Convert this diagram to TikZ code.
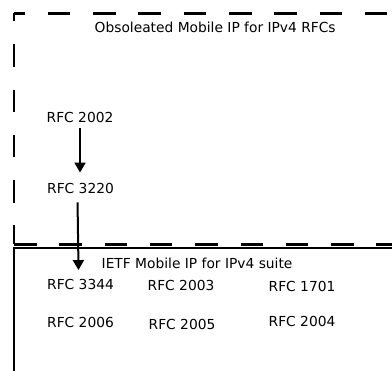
\documentclass[tikz,border=0pt]{standalone}
\usepackage{fontspec}
\setmainfont{DejaVu Sans}
\usetikzlibrary{arrows.meta}
\begin{document}
\begin{tikzpicture}[x=1pt,y=-1pt,
  lbl/.style={anchor=base west,inner sep=0pt,font=\fontsize{13.8}{16}\selectfont},
  dashln/.style={line width=2.2pt,dash pattern=on 22.5pt off 22.8pt},
  solidln/.style={line width=2pt},
  arr/.style={line width=2pt,-{Triangle[length=10pt,width=11pt]}}]
\useasboundingbox (0,0) rectangle (392,371);
\clip (0,0) rectangle (392,371);
% obsoleted group (dashed)
\coordinate (otl) at (14,13.5);
\coordinate (otr) at (430,13.5);
\coordinate (obl) at (14,244.5);
\coordinate (obr) at (430,244.5);
\draw[dashln,dash phase=11.5pt] (otl) -- (otr);
\draw[dashln,dash phase=14.5pt] (otl) -- (obl);
\draw[dashln] (obl) -- (obr);
% IETF suite group (solid)
\coordinate (itl) at (14,248);
\coordinate (itr) at (430,248);
\coordinate (ibl) at (14,400);
\draw[solidln] (ibl) -- (itl) -- (itr);
% labels
\node[lbl] (otitle) at (94.5,32.5) {Obsoleated Mobile IP for IPv4 RFCs};
\node[lbl] (r2002) at (46.5,122.5) {RFC 2002};
\node[lbl] (r3220) at (47,194) {RFC 3220};
\node[lbl] (ititle) at (101.5,268.5) {IETF Mobile IP for IPv4 suite};
\node[lbl] (r3344) at (47,289.5) {RFC 3344};
\node[lbl] (r2003) at (147.5,291) {RFC 2003};
\node[lbl] (r1701) at (268.5,291.5) {RFC 1701};
\node[lbl] (r2006) at (47,328) {RFC 2006};
\node[lbl] (r2005) at (148.5,329.5) {RFC 2005};
\node[lbl] (r2004) at (268.5,326.5) {RFC 2004};
% arrows
\draw[arr] ([yshift=-5pt]r2002.south) -- ([yshift=11pt]r2002.south |- r3220.north);
\draw[arr] ([xshift=-3pt,yshift=-8pt]r3220.south) -- ([xshift=-2pt,yshift=9pt]r3344.north);
\end{tikzpicture}
\end{document}
